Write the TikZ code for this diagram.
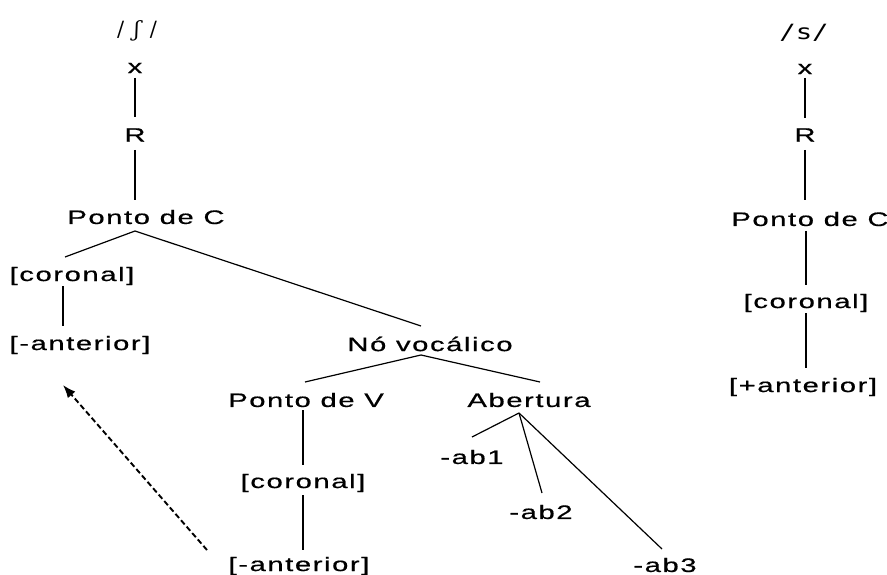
\documentclass[tikz,border=0pt]{standalone}
\usepackage{fontspec}
\setmainfont[FakeStretch=1.5,LetterSpace=8,FakeBold=0.6]{Liberation Sans}
\newfontfamily\ipafont{DejaVu Serif}
\newfontfamily\slashfont[FakeStretch=1.3]{DejaVu Sans Mono}
\usetikzlibrary{calc,arrows.meta}
\tikzset{
  lbl/.style={inner sep=0pt, font=\fontsize{19.5}{22}\selectfont},
  phon/.style={inner sep=0pt, font=\fontsize{21}{24}\selectfont},
  edge/.style={line width=1.2pt},
  reassoc/.style={line width=1.9pt, dash pattern=on 5.5pt off 3pt,
    -{Latex[length=13pt,width=10pt]}}
}
\begin{document}
\begin{tikzpicture}[x=1pt,y=-1pt]
\useasboundingbox (0,0) rectangle (887,575);

% ---- tree for /ʃ/ ----
\node[phon] (ph1) at (137,31) {\ipafont /\hspace{10pt}\itshape ʃ\hspace{10pt}\upshape/};
\node[lbl] (x1)   at (135,68)  {x};
\node[lbl] (R1)   at (135,135) {R};
\node[lbl] (pc1)  at (146,217) {Ponto de C};
\node[lbl] (cor1) at (72,276)  {[coronal]};
\node[lbl] (ant1) at (80,345)  {[-anterior]};
\node[lbl] (nv)   at (430,344) {Nó vocálico};
\node[lbl] (pv)   at (306,400) {Ponto de V};
\node[lbl] (ab)   at (529,400) {Abertura};
\node[lbl] (cor2) at (303,483) {[coronal]};
\node[lbl] (ant2) at (299,566) {[-anterior]};
\node[lbl] (ab1)  at (472,457) {-ab1};
\node[lbl] (ab2)  at (541,512) {-ab2};
\node[lbl] (ab3)  at (665,565) {-ab3};

\draw[edge] ($(x1)+(0,10)$)    -- ($(R1)+(0,-18)$);
\draw[edge] ($(R1)+(0,15)$)    -- ($(pc1)+(-11,-17)$);
\draw[edge] ($(pc1)+(-11,14)$) -- ($(cor1)+(-7,-19)$);
\draw[edge] ($(pc1)+(-11,14)$) -- ($(nv)+(-9,-18)$);
\draw[edge] ($(cor1)+(-9,10)$) -- ($(ant1)+(-17,-19)$);
\draw[edge] ($(nv)+(-9,11)$)   -- ($(pv)+(-1,-18)$);
\draw[edge] ($(nv)+(-9,11)$)   -- ($(ab)+(11,-18)$);
\draw[edge] ($(pv)+(-3,10)$)   -- ($(cor2)+(0,-18)$);
\draw[edge] ($(cor2)+(0,12)$)  -- ($(ant2)+(4,-16)$);
\draw[edge] ($(ab)+(-10,13)$)  -- ($(ab1)+(0,-20)$);
\draw[edge] ($(ab)+(-10,13)$)  -- ($(ab2)+(1,-19)$);
\draw[edge] ($(ab)+(-10,13)$)  -- ($(ab3)+(-3,-16)$);

% dashed reassociation arrow
\draw[reassoc] ($(ant2)+(-92,-16)$) -- ($(ant1)+(-17,40)$);

% ---- tree for /s/ ----
\node[phon] (ph2) at (804,33) {\slashfont /s/};
\node[lbl] (x2)   at (805,69)  {x};
\node[lbl] (R2)   at (805,135) {R};
\node[lbl] (pc2)  at (810,219) {Ponto de C};
\node[lbl] (cor3) at (806,303) {[coronal]};
\node[lbl] (ant3) at (803,387) {[+anterior]};

\draw[edge] ($(x2)+(0,9)$)     -- ($(R2)+(0,-17)$);
\draw[edge] ($(R2)+(0,15)$)    -- ($(pc2)+(-5,-19)$);
\draw[edge] ($(pc2)+(-4,12)$)  -- ($(cor3)+(0,-18)$);
\draw[edge] ($(cor3)+(0,10)$)  -- ($(ant3)+(3,-19)$);
\end{tikzpicture}
\end{document}
